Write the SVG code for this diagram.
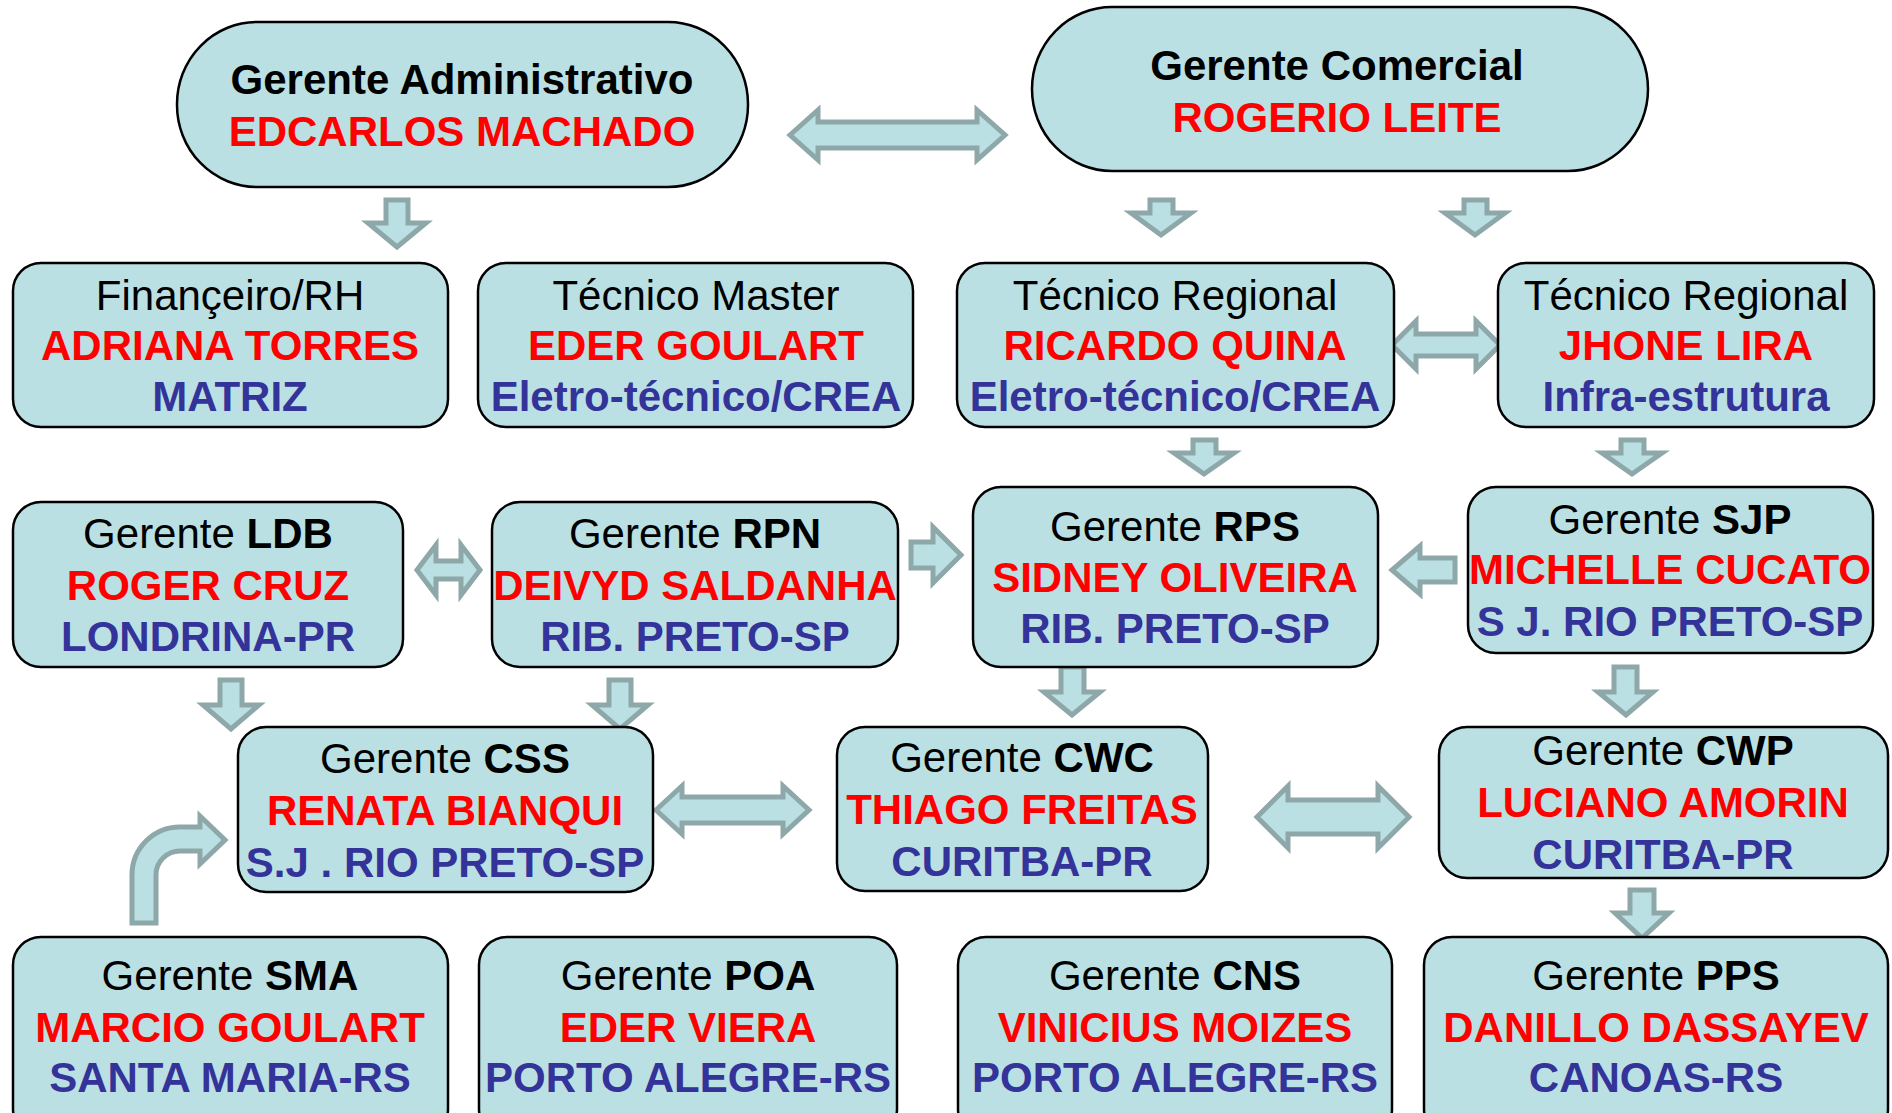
<svg xmlns="http://www.w3.org/2000/svg" width="1892" height="1113" viewBox="0 0 1892 1113">
<style>
.box{fill:#BBE0E3;stroke:#000;stroke-width:2.5}
.arr{fill:#BBE0E3;stroke:#8EA8AA;stroke-width:5;stroke-linejoin:miter}
text{font-family:"Liberation Sans",Arial,sans-serif;font-size:42px;text-anchor:middle}
.t{fill:#000}
.b{font-weight:bold}
.r{fill:#FF0000;font-weight:bold}
.u{fill:#333399;font-weight:bold}
</style>
<rect width="1892" height="1113" fill="#fff"/>
<g id="connectors">
<path class="arr" d="M790,135 L818,110 V122 H977 V110 L1005,135 L977,160 V148 H818 V160 Z"/>
<path class="arr" d="M386,200 H408 V223 H426 L397,247 L368,223 H386 Z"/>
<path class="arr" d="M1150,200 H1173 V213 H1191 L1161,235 L1131,213 H1150 Z"/>
<path class="arr" d="M1464,200 H1487 V213 H1505 L1475,235 L1445,213 H1464 Z"/>
<path class="arr" d="M1392,345 L1416,321 V334 H1476 V321 L1500,345 L1476,369 V356 H1416 V369 Z"/>
<path class="arr" d="M1193,440 H1216 V453 H1234 L1204,474 L1174,453 H1193 Z"/>
<path class="arr" d="M1621,440 H1644 V453 H1662 L1632,474 L1602,453 H1621 Z"/>
<path class="arr" d="M417,570 L436,545 V561 H461 V545 L480,570 L461,595 V579 H436 V595 Z"/>
<path class="arr" d="M911,542 H933 V527 L961,555 L933,583 V568 H911 Z"/>
<path class="arr" d="M1455,558 H1420 V546 L1392,570 L1420,594 V582 H1455 Z"/>
<path class="arr" d="M220,680 H242 V705 H259 L231,729 L203,705 H220 Z"/>
<path class="arr" d="M609,680 H631 V705 H648 L620,729 L592,705 H609 Z"/>
<path class="arr" d="M1061,667 H1084 V692 H1100 L1072,715 L1044,692 H1061 Z"/>
<path class="arr" d="M1614,667 H1637 V692 H1653 L1626,715 L1598,692 H1614 Z"/>
<path class="arr" d="M656,810 L682,786 V797 H783 V786 L809,810 L783,834 V823 H682 V834 Z"/>
<path class="arr" d="M1257,817 L1288,786 V800 H1378 V786 L1409,817 L1378,848 V834 H1288 V848 Z"/>
<path class="arr" d="M1630,890 H1654 V913 H1669 L1642,938 L1615,913 H1630 Z"/>
<path class="arr" d="M132,923 V875 A48,48 0 0 1 180,827 H200 V816 L225,840 L200,864 V851 H180 A24,24 0 0 0 156,875 V923 Z"/>
</g>
<g id="n-admin">
<rect class="box" x="177" y="22" width="571" height="165" rx="80" ry="82"/>
<text x="462" y="94" class="t b">Gerente Administrativo</text>
<text x="462" y="146" class="r">EDCARLOS MACHADO</text>
</g>
<g id="n-comercial">
<rect class="box" x="1032" y="7" width="616" height="164" rx="80" ry="82"/>
<text x="1337" y="80" class="t b">Gerente Comercial</text>
<text x="1337" y="132" class="r">ROGERIO LEITE</text>
</g>
<g id="n-financeiro">
<rect class="box" x="13" y="263" width="435" height="164" rx="28"/>
<text x="230" y="310" class="t">Finançeiro/RH</text>
<text x="230" y="360" class="r">ADRIANA TORRES</text>
<text x="230" y="411" class="u">MATRIZ</text>
</g>
<g id="n-tecmaster">
<rect class="box" x="478" y="263" width="435" height="164" rx="28"/>
<text x="696" y="310" class="t">Técnico Master</text>
<text x="696" y="360" class="r">EDER GOULART</text>
<text x="696" y="411" class="u">Eletro-técnico/CREA</text>
</g>
<g id="n-tecreg1">
<rect class="box" x="957" y="263" width="437" height="164" rx="28"/>
<text x="1175" y="310" class="t">Técnico Regional</text>
<text x="1175" y="360" class="r">RICARDO QUINA</text>
<text x="1175" y="411" class="u">Eletro-técnico/CREA</text>
</g>
<g id="n-tecreg2">
<rect class="box" x="1498" y="263" width="376" height="164" rx="28"/>
<text x="1686" y="310" class="t">Técnico Regional</text>
<text x="1686" y="360" class="r">JHONE LIRA</text>
<text x="1686" y="411" class="u">Infra-estrutura</text>
</g>
<g id="n-ldb">
<rect class="box" x="13" y="502" width="390" height="165" rx="28"/>
<text x="208" y="548" class="t">Gerente <tspan class="b">LDB</tspan></text>
<text x="208" y="600" class="r">ROGER CRUZ</text>
<text x="208" y="651" class="u">LONDRINA-PR</text>
</g>
<g id="n-rpn">
<rect class="box" x="492" y="502" width="406" height="165" rx="28"/>
<text x="695" y="548" class="t">Gerente <tspan class="b">RPN</tspan></text>
<text x="695" y="600" class="r">DEIVYD SALDANHA</text>
<text x="695" y="651" class="u">RIB. PRETO-SP</text>
</g>
<g id="n-rps">
<rect class="box" x="973" y="487" width="405" height="180" rx="28"/>
<text x="1175" y="541" class="t">Gerente <tspan class="b">RPS</tspan></text>
<text x="1175" y="592" class="r">SIDNEY OLIVEIRA</text>
<text x="1175" y="643" class="u">RIB. PRETO-SP</text>
</g>
<g id="n-sjp">
<rect class="box" x="1468" y="487" width="405" height="166" rx="28"/>
<text x="1670" y="534" class="t">Gerente <tspan class="b">SJP</tspan></text>
<text x="1670" y="584" class="r">MICHELLE CUCATO</text>
<text x="1670" y="636" class="u">S J. RIO PRETO-SP</text>
</g>
<g id="n-css">
<rect class="box" x="238" y="727" width="415" height="165" rx="28"/>
<text x="445" y="773" class="t">Gerente <tspan class="b">CSS</tspan></text>
<text x="445" y="825" class="r">RENATA BIANQUI</text>
<text x="445" y="877" class="u">S.J . RIO PRETO-SP</text>
</g>
<g id="n-cwc">
<rect class="box" x="837" y="727" width="371" height="164" rx="28"/>
<text x="1022" y="772" class="t">Gerente <tspan class="b">CWC</tspan></text>
<text x="1022" y="824" class="r">THIAGO FREITAS</text>
<text x="1022" y="876" class="u">CURITBA-PR</text>
</g>
<g id="n-cwp">
<rect class="box" x="1439" y="727" width="449" height="151" rx="28"/>
<text x="1663" y="765" class="t">Gerente <tspan class="b">CWP</tspan></text>
<text x="1663" y="817" class="r">LUCIANO AMORIN</text>
<text x="1663" y="869" class="u">CURITBA-PR</text>
</g>
<g id="n-sma">
<rect class="box" x="13" y="937" width="435" height="200" rx="28"/>
<text x="230" y="990" class="t">Gerente <tspan class="b">SMA</tspan></text>
<text x="230" y="1042" class="r">MARCIO GOULART</text>
<text x="230" y="1092" class="u">SANTA MARIA-RS</text>
</g>
<g id="n-poa">
<rect class="box" x="479" y="937" width="418" height="200" rx="28"/>
<text x="688" y="990" class="t">Gerente <tspan class="b">POA</tspan></text>
<text x="688" y="1042" class="r">EDER VIERA</text>
<text x="688" y="1092" class="u">PORTO ALEGRE-RS</text>
</g>
<g id="n-cns">
<rect class="box" x="958" y="937" width="434" height="200" rx="28"/>
<text x="1175" y="990" class="t">Gerente <tspan class="b">CNS</tspan></text>
<text x="1175" y="1042" class="r">VINICIUS MOIZES</text>
<text x="1175" y="1092" class="u">PORTO ALEGRE-RS</text>
</g>
<g id="n-pps">
<rect class="box" x="1424" y="937" width="464" height="200" rx="28"/>
<text x="1656" y="990" class="t">Gerente <tspan class="b">PPS</tspan></text>
<text x="1656" y="1042" class="r">DANILLO DASSAYEV</text>
<text x="1656" y="1092" class="u">CANOAS-RS</text>
</g>
</svg>
